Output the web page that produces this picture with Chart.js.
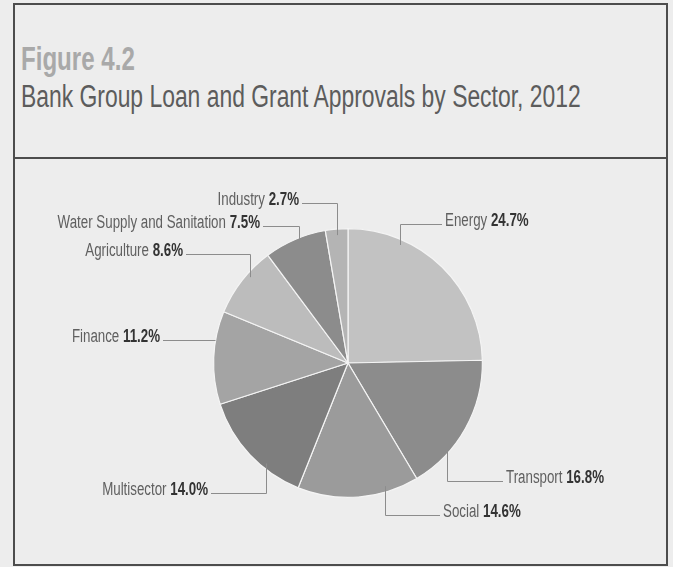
<!DOCTYPE html>
<html>
<head>
<meta charset="utf-8">
<script src="https://cdn.jsdelivr.net/npm/chart.js@4.4.1/dist/chart.umd.min.js"></script>
<style>
  html, body { margin: 0; padding: 0; }
  body {
    width: 673px; height: 567px; overflow: hidden; position: relative;
    background: #ededed;
    font-family: 'Liberation Sans', Arial, sans-serif;
  }
  .frame {
    position: absolute; left: 13px; top: 3px; width: 655px; height: 563px;
    border: 2px solid #4d4d4d; box-sizing: border-box;
  }
  .rule { position: absolute; left: 13px; top: 157px; width: 655px; height: 2px; background: #4d4d4d; }
  .fig, .sub { position: absolute; left: 21px; white-space: nowrap; transform-origin: left top; }
  .fig { top: 42px; font-size: 33px; line-height: 33px; font-weight: bold; color: #a9a9a9; transform: scaleX(0.73); }
  .sub { top: 81px; font-size: 31px; line-height: 31px; color: #5c5c5c; transform: scaleX(0.738); }
  #sectorPie { position: absolute; left: 0; top: 0; }
</style>
</head>
<body>
<div class="frame"></div>
<div class="rule"></div>
<div class="fig">Figure 4.2</div>
<div class="sub">Bank Group Loan and Grant Approvals by Sector, 2012</div>
<canvas id="sectorPie" width="673" height="567"></canvas>
<script>
const sectors = ['Energy', 'Transport', 'Social', 'Multisector', 'Finance',
                 'Agriculture', 'Water Supply and Sanitation', 'Industry'];
const shares = [24.7, 16.8, 14.6, 14.0, 11.2, 8.6, 7.5, 2.7];

const sliceGrays = ['#c2c2c2', '#8c8c8c', '#9b9b9b', '#7e7e7e',
                    '#a4a4a4', '#bcbcbc', '#8c8c8c', '#b4b4b4'];

// where each callout sits: f = point along the slice edge, dy = line height
// from pie centre (null = straight line), tx = text edge from pie centre
const callouts = [
    { side: 'right', f: 0.255, dy: -139, tx: 97 },
    { side: 'right', f: 0.726, dy: 118, tx: 158 },
    { side: 'right', f: 0.28, dy: 152, tx: 95 },
    { side: 'left', f: 0.315, dy: 130, tx: -140 },
    { side: 'left', f: 0.685, dy: null, tx: -188 },
    { side: 'left', f: 0.67, dy: -109, tx: -165 },
    { side: 'left', f: 0.56, dy: -137, tx: -88 },
    { side: 'left', f: 0.5, dy: -160, tx: -49 },
];

const labelFont = "'Liberation Sans', Arial, sans-serif";
const labelSize = 18;
const squeeze = 0.74;

const calloutPlugin = {
    id: 'callouts',
    afterDatasetsDraw(chart) {
        const ctx = chart.ctx;
        const arcs = chart.getDatasetMeta(0).data;
        arcs.forEach((arc, i) => {
            const c = callouts[i];
            const { x, y, startAngle, endAngle, outerRadius } =
                arc.getProps(['x', 'y', 'startAngle', 'endAngle', 'outerRadius'], true);
            const a = startAngle + c.f * (endAngle - startAngle);
            const hx = x + outerRadius * Math.cos(a);
            const hy = y + outerRadius * Math.sin(a);
            const ly = c.dy === null ? hy : y + c.dy;
            const textX = x + c.tx;

            ctx.save();
            ctx.strokeStyle = '#8c8c8c';
            ctx.lineWidth = 1;
            ctx.beginPath();
            if (c.dy === null) {
                ctx.moveTo(hx, Math.round(ly) + 0.5);
            } else {
                const inset = ly < hy ? 6 : -6;
                ctx.moveTo(Math.round(hx) + 0.5, hy + inset);
                ctx.lineTo(Math.round(hx) + 0.5, Math.round(ly) + 0.5);
            }
            ctx.lineTo(c.side === 'right' ? textX - 3 : textX + 3, Math.round(ly) + 0.5);
            ctx.stroke();

            // name in regular weight, share in bold
            const name = sectors[i] + ' ';
            const value = shares[i].toFixed(1) + '%';
            ctx.font = labelSize + 'px ' + labelFont;
            const nameW = ctx.measureText(name).width;
            ctx.font = 'bold ' + labelSize + 'px ' + labelFont;
            const valueW = ctx.measureText(value).width;
            const total = (nameW + valueW) * squeeze;
            const startX = c.side === 'right' ? textX : textX - total;

            ctx.translate(startX, ly + 2);
            ctx.scale(squeeze, 1);
            ctx.textBaseline = 'alphabetic';
            ctx.font = labelSize + 'px ' + labelFont;
            ctx.fillStyle = '#606060';
            ctx.fillText(name, 0, 0);
            ctx.font = 'bold ' + labelSize + 'px ' + labelFont;
            ctx.fillStyle = '#333333';
            ctx.fillText(value, nameW, 0);
            ctx.restore();
        });
    }
};

const sectorPie = new Chart(document.getElementById('sectorPie'), {
    type: 'pie',
    data: {
        labels: sectors,
        datasets: [{
            data: shares,
            backgroundColor: sliceGrays,
            borderColor: '#f4f4f4',
            borderWidth: 1.2,
        }]
    },
    options: {
        responsive: false,
        animation: false,
        layout: {
            padding: { top: 228, bottom: 69, left: 213, right: 190 }
        },
        plugins: {
            legend: { display: false },
            tooltip: { enabled: false },
        }
    },
    plugins: [calloutPlugin]
});
</script>
</body>
</html>
